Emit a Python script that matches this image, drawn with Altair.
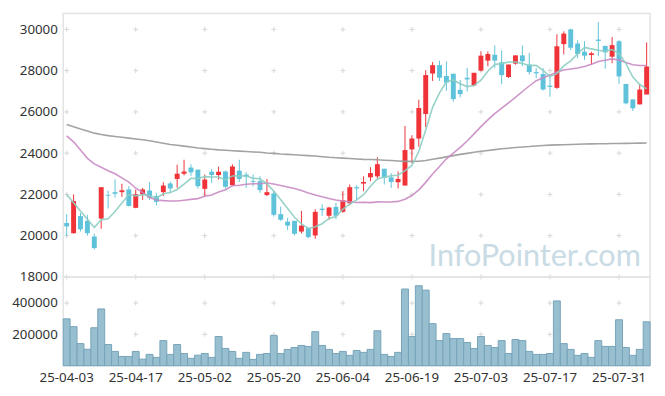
import altair as alt
import pandas as pd

# ---- trading days (KRX, 2025) ----
month_days = {
    "04": [3, 4, 7, 8, 9, 10, 11, 14, 15, 16, 17, 18, 21, 22, 23, 24, 25, 28, 29, 30],
    "05": [2, 7, 8, 9, 12, 13, 14, 15, 16, 19, 20, 21, 22, 23, 26, 27, 28, 29, 30],
    "06": [2, 4, 5, 9, 10, 11, 12, 13, 16, 17, 18, 19, 20, 23, 24, 25, 26, 27, 30],
    "07": [1, 2, 3, 4, 7, 8, 9, 10, 11, 14, 15, 16, 17, 18, 21, 22, 23, 24, 25, 28, 29, 30, 31],
    "08": [1, 4, 5, 6],
}
dates = [f"25-{m}-{d:02d}" for m, days in month_days.items() for d in days]

x_tick_labels = ["25-04-03", "25-04-17", "25-05-02", "25-05-20", "25-06-04",
                 "25-06-19", "25-07-03", "25-07-17", "25-07-31"]
price_ticks = [18000, 20000, 22000, 24000, 26000, 28000, 30000]
volume_ticks = [200000, 400000]

open_ = [20615, 20120, 20950, 20720, 19960, 20830, 21980, 22110, 22110, 22240,
         21350, 22000, 22190, 21920, 22110, 22530, 22750, 23000, 23300, 23200,
         22270, 23100, 22940, 23110, 22450, 23150, 22960, 22640, 22640, 21970,
         22050, 21045, 20680, 20720, 20200, 20360, 20010, 21310, 20965, 21395,
         21155, 21570, 22350, 22525, 22830, 22875, 23245, 22830, 22590, 22430,
         24180, 24710, 25900, 27860, 28265, 27740, 27850, 27070, 27655, 27290,
         28005, 28485, 28770, 28405, 27690, 28340, 28740, 28295, 27930, 27835,
         27275, 27165, 29285, 30000, 29315, 28915, 28755, 29505, 29200, 28675,
         29425, 27355, 26605, 26365, 26845]
high = [21045, 22000, 21100, 21000, 20100, 22350, 22180, 22720, 22520, 22400,
        22240, 22320, 22590, 22050, 22590, 22620, 23440, 23680, 23460, 23200,
        22960, 23240, 23350, 23160, 23460, 23680, 23070, 22960, 22880, 22750,
        22160, 21410, 20860, 20720, 21200, 20400, 21280, 21520, 21400, 21590,
        22160, 22480, 22445, 22880, 23320, 23800, 23245, 23035, 23115, 25315,
        24870, 26590, 28025, 28420, 28485, 28450, 27850, 27550, 28135, 27895,
        28935, 28935, 29220, 28980, 28295, 28740, 29220, 28855, 28120, 28120,
        27835, 29760, 29905, 30030, 29475, 29425, 28915, 30350, 29200, 29630,
        29475, 27355, 26605, 27325, 29365]
low = [19975, 20100, 20200, 20000, 19330, 20330, 21320, 21850, 21880, 21410,
       21330, 21730, 21730, 21470, 21920, 22080, 22320, 22920, 22900, 22290,
       21920, 22560, 22720, 22290, 22400, 22600, 22320, 22390, 22080, 21920,
       20930, 20720, 20280, 20010, 20110, 19880, 19850, 20960, 20770, 20800,
       21110, 21470, 21750, 22160, 22640, 22770, 22480, 22320, 22290, 22430,
       23510, 24310, 25265, 27500, 27500, 27020, 26500, 26700, 26990, 27240,
       27960, 28215, 28135, 27340, 27640, 28290, 28215, 27815, 27640, 27035,
       26735, 27120, 28790, 28990, 28600, 28520, 28280, 28700, 28090, 28360,
       27355, 26365, 26045, 26365, 26845]
close = [20450, 21680, 20310, 20120, 19400, 22350, 21940, 22030, 22200, 21440,
         22000, 22240, 21840, 21640, 22430, 22290, 23005, 23110, 23070, 22400,
         22720, 22940, 23100, 22370, 23355, 22750, 22870, 22600, 22210, 22110,
         21010, 20770, 20490, 20090, 20485, 19930, 21155, 21240, 21365, 20965,
         21715, 22350, 22290, 22605, 23035, 23465, 22800, 22605, 22750, 24150,
         24710, 26190, 27785, 28265, 27655, 27420, 26620, 26860, 27575, 27895,
         28725, 28805, 28485, 27785, 28295, 28740, 28455, 27930, 27870, 27085,
         27210, 29180, 29795, 29110, 28805, 28725, 28840, 29440, 28885, 29235,
         27720, 26415, 26175, 27085, 28200]
volume = [299000, 249000, 141000, 105000, 242000, 362000, 135000, 91000, 59000, 59000,
          91000, 42000, 72000, 53000, 160000, 72000, 135000, 78000, 47000, 67000,
          78000, 53000, 186000, 110000, 91000, 47000, 85000, 40000, 72000, 78000,
          192000, 78000, 104000, 116000, 129000, 123000, 217000, 129000, 104000, 78000,
          91000, 66000, 97000, 85000, 104000, 223000, 72000, 59000, 85000, 489000,
          186000, 510000, 482000, 268000, 160000, 205000, 173000, 173000, 148000, 110000,
          186000, 129000, 116000, 160000, 78000, 167000, 160000, 91000, 72000, 72000,
          78000, 413000, 141000, 104000, 66000, 78000, 53000, 160000, 123000, 123000,
          293000, 116000, 66000, 104000, 280000]
ma5 = [22000, 21600, 21200, 20800, 20392, 20772, 20824, 21168, 21584, 21992,
       21922, 21982, 21944, 21832, 22030, 22088, 22241, 22495, 22781, 22775,
       22861, 22848, 22846, 22706, 22897, 22903, 22889, 22789, 22757, 22508,
       22160, 21740, 21318, 20894, 20569, 20353, 20430, 20580, 20835, 20931,
       21288, 21527, 21737, 21985, 22399, 22749, 22839, 22902, 22931, 23154,
       23403, 24081, 25117, 26220, 26921, 27463, 27549, 27364, 27226, 27274,
       27535, 27972, 28297, 28339, 28419, 28422, 28352, 28241, 28258, 28016,
       27710, 27855, 28228, 28476, 28820, 29123, 29055, 28984, 28939, 29025,
       28824, 28339, 27686, 27326, 27119]
ma20 = [24840, 24550, 24150, 23750, 23480, 23320, 23150, 23000, 22800, 22600,
        22300, 22100, 21850, 21730, 21700, 21680, 21680, 21720, 21760, 21797,
        21911, 21974, 22113, 22226, 22424, 22444, 22490, 22519, 22519, 22553,
        22503, 22430, 22362, 22285, 22187, 22069, 21977, 21883, 21798, 21726,
        21676, 21647, 21606, 21618, 21602, 21638, 21634, 21634, 21661, 21763,
        21948, 22219, 22584, 22993, 23351, 23726, 23999, 24280, 24591, 24937,
        25288, 25610, 25920, 26179, 26442, 26706, 26989, 27255, 27511, 27658,
        27783, 27932, 28033, 28075, 28132, 28198, 28309, 28438, 28503, 28570,
        28520, 28400, 28285, 28250, 28245]
ma120 = [25390, 25280, 25170, 25070, 24970, 24900, 24850, 24810, 24770, 24730,
         24690, 24650, 24600, 24540, 24480, 24420, 24380, 24340, 24300, 24250,
         24220, 24190, 24160, 24140, 24120, 24100, 24080, 24060, 24040, 24010,
         23990, 23960, 23940, 23920, 23900, 23880, 23860, 23830, 23800, 23780,
         23760, 23740, 23720, 23700, 23690, 23680, 23660, 23640, 23620, 23600,
         23600, 23610, 23640, 23700, 23760, 23820, 23880, 23940, 23990, 24040,
         24090, 24130, 24170, 24210, 24240, 24270, 24300, 24320, 24350, 24370,
         24390, 24400, 24410, 24420, 24430, 24440, 24450, 24455, 24460, 24465,
         24470, 24475, 24480, 24485, 24490]

df = pd.DataFrame({
    "date": dates, "open": open_, "high": high, "low": low, "close": close,
    "volume": volume, "ma5": ma5, "ma20": ma20, "ma120": ma120,
})

grid_price = pd.DataFrame([{"date": d, "v": v} for d in x_tick_labels for v in price_ticks])
grid_vol = pd.DataFrame([{"date": d, "v": v} for d in x_tick_labels for v in volume_ticks])

RED = "#ef3339"
BLUE = "#5ec3da"
LABEL_FONT = "Noto Sans"
W = 595

x_scale = alt.Scale(domain=dates, paddingInner=0, paddingOuter=0)
price_scale = alt.Scale(domain=[18000, 30765], nice=False, zero=False)
vol_scale = alt.Scale(domain=[0, 566000], nice=False)

price_axis = alt.Axis(values=price_ticks, title=None, grid=False, ticks=False, domain=False,
                      format="d", labelFont=LABEL_FONT, labelFontSize=13.5,
                      labelColor="#333333", labelPadding=6)
vol_axis = alt.Axis(values=volume_ticks, title=None, grid=False, ticks=False, domain=False,
                    format="d", labelFont=LABEL_FONT, labelFontSize=13.5,
                    labelColor="#333333", labelPadding=6)

xp = alt.X("date:O", scale=x_scale, axis=None, sort=dates)

cross_shape = "M-1,0L1,0M0,-1L0,1"

base = alt.Chart(df)

p_cross = alt.Chart(grid_price).mark_point(shape=cross_shape, size=25, filled=False,
                                           color="#d6d6d6", strokeWidth=1, opacity=1).encode(
    x=xp, y=alt.Y("v:Q", scale=price_scale, axis=price_axis))

wick = base.mark_rule(strokeWidth=1).encode(
    x=xp,
    y=alt.Y("low:Q", scale=price_scale, axis=price_axis),
    y2="high:Q",
    color=alt.condition("datum.close >= datum.open", alt.value(RED), alt.value(BLUE)),
)
body = base.mark_bar(size=5).encode(
    x=xp,
    y=alt.Y("open:Q", scale=price_scale, axis=price_axis),
    y2="close:Q",
    color=alt.condition("datum.close >= datum.open", alt.value(RED), alt.value(BLUE)),
)

def ma_line(field, col, op):
    return base.mark_line(strokeWidth=1.6, opacity=op).encode(
        x=xp, y=alt.Y(f"{field}:Q", scale=price_scale, axis=price_axis),
        color=alt.value(col))

l120 = ma_line("ma120", "#999999", 0.9)
l20 = ma_line("ma20", "#c98ac3", 0.9)
l5 = ma_line("ma5", "#8ccdc2", 0.9)

watermark = alt.Chart(pd.DataFrame({"t": ["InfoPointer.com"]})).mark_text(
    font="Lato", fontSize=31, color="#c9dbe4", align="center", baseline="alphabetic"
).encode(x=alt.value(478), y=alt.value(256), text="t:N")

price = alt.layer(p_cross, watermark, wick, body, l120, l20, l5).properties(width=W, height=267)

xv = alt.X("date:O", scale=x_scale, sort=dates,
           axis=alt.Axis(values=x_tick_labels, title=None, ticks=False, domain=False,
                         labelAngle=0, labelFont=LABEL_FONT, labelFontSize=13.5,
                         labelColor="#333333", labelPadding=5, grid=False))

v_cross = alt.Chart(grid_vol).mark_point(shape=cross_shape, size=25, filled=False,
                                         color="#d6d6d6", strokeWidth=1, opacity=1).encode(
    x=xv, y=alt.Y("v:Q", scale=vol_scale, axis=vol_axis))
vbars = base.mark_bar(color="#98bfd0", stroke="#76a4b9", strokeWidth=1).encode(
    x=xv, y=alt.Y("volume:Q", scale=vol_scale, axis=vol_axis))

vol = alt.layer(v_cross, vbars).properties(width=W, height=90)

chart = alt.vconcat(price, vol, spacing=0, bounds="flush").properties(
    padding={"left": 2, "top": 2, "right": 5, "bottom": 5}
).configure_view(stroke="#e3e3e3", strokeWidth=1.5)

chart.save("out.html", embed_options={"renderer": "svg", "actions": False})
